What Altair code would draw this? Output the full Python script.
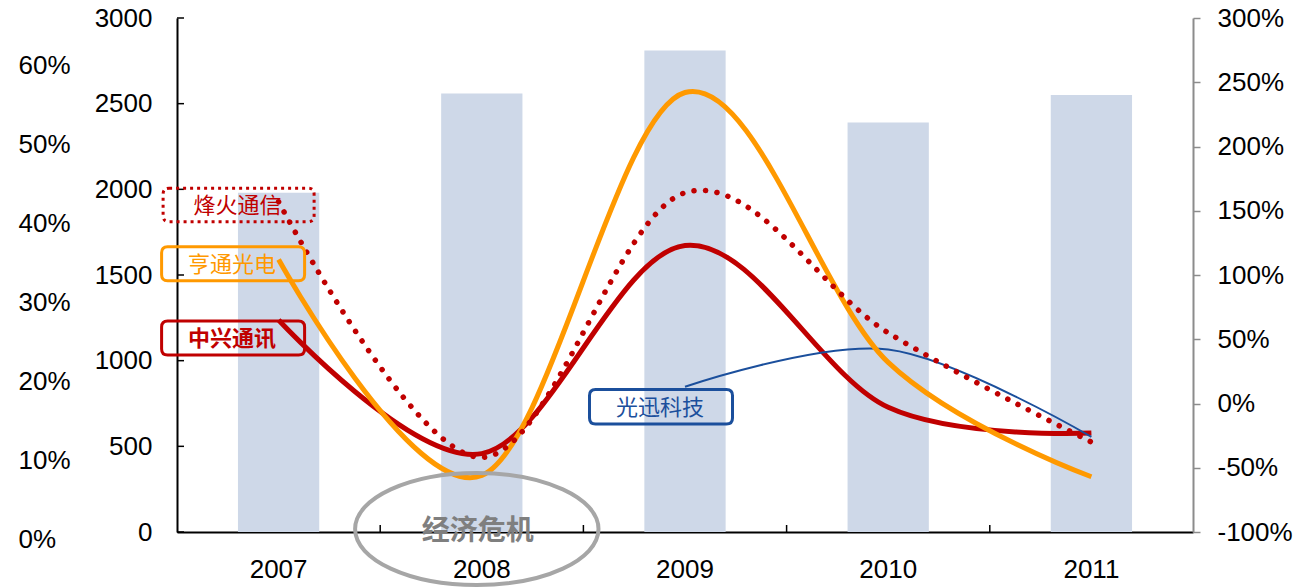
import altair as alt
import pandas as pd

# ---------------- data ----------------
years = ["2007", "2008", "2009", "2010", "2011"]
bar_values = [1980, 2560, 2810, 2390, 2550]

zte = [0.65, -0.39, 1.23, -0.03, -0.23]          # 中兴通讯
hengtong = [1.12, -0.56, 2.42, 0.32, -0.57]      # 亨通光电
fiberhome = [1.57, -0.42, 1.64, 0.55, -0.30]     # 烽火通信
accelink = [None, None, 0.13, 0.42, -0.26]       # 光迅科技

left_ticks = [0, 500, 1000, 1500, 2000, 2500, 3000]
right_ticks = [-1.0, -0.5, 0.0, 0.5, 1.0, 1.5, 2.0, 2.5, 3.0]
outer_ticks = [0, 10, 20, 30, 40, 50, 60]

label_names = ["烽火通信", "亨通光电", "中兴通讯", "光迅科技"]
label_years = ["2007", "2007", "2007", "2009"]
label_values = [1.545, 1.087, 0.51, -0.025]
crisis_label = "经济危机"

# ---------------- styling ----------------
W, H = 1016, 514
NUM_FONT = "Liberation Sans"
CJK_FONT = "Noto Sans CJK SC"
RED, ORANGE, BLUE, BAR = "#C00000", "#FF9900", "#1B4F9C", "#CED8E8"

xscale = alt.Scale(domain=years, paddingInner=0, paddingOuter=0)
xaxis = alt.Axis(domain=True, domainColor="black", domainWidth=2, ticks=False, tickSize=0,
                 labelPadding=24, labelFontSize=26, labelFont=NUM_FONT, labelColor="black",
                 labelAngle=0, grid=False, title=None)
X = alt.X("year:N", scale=xscale, axis=xaxis, sort=years)

bar_scale = alt.Scale(domain=[0, 3000], nice=False, zero=False)
right_scale = alt.Scale(domain=[-1.0, 3.0], nice=False, zero=False)

left_axis = alt.Axis(orient="left", values=left_ticks, format="d", domain=True,
                     domainColor="black", domainWidth=2, ticks=False, tickSize=0,
                     labelPadding=25, labelFontSize=26, labelFont=NUM_FONT, labelColor="black",
                     grid=False, title=None)
right_axis = alt.Axis(orient="right", values=right_ticks, domain=True, domainColor="#8C8C8C",
                      domainWidth=2, ticks=True, tickColor="#8C8C8C", tickWidth=1.5, tickSize=7,
                      labelPadding=17, labelFontSize=26, labelFont=NUM_FONT, labelColor="black",
                      labelExpr="round(datum.value*100) + '%'", grid=False, title=None)
outer_axis = alt.Axis(orient="left", values=outer_ticks, domain=False, ticks=False, tickSize=0,
                      offset=150, labelPadding=9, labelAlign="left", labelFontSize=26,
                      labelFont=NUM_FONT, labelColor="black", labelExpr="datum.value + '%'",
                      grid=False, title=None)

# ---------------- layers ----------------
df_bars = pd.DataFrame({"year": years, "v": bar_values})
bars = alt.Chart(df_bars).mark_bar(width={"band": 0.4}, color=BAR).encode(
    x=X, y=alt.Y("v:Q", scale=bar_scale, axis=left_axis))

df_lt = pd.DataFrame({"v": left_ticks})
left_tick_rules = alt.Chart(df_lt).mark_rule(color="black", strokeWidth=1.5).encode(
    y=alt.Y("v:Q", scale=bar_scale, axis=None), x=alt.value(0), x2=alt.value(7))

df_xt = pd.DataFrame({"year": years[1:]})
x_tick_rules = alt.Chart(df_xt).mark_rule(color="black", strokeWidth=1.5).encode(
    x=alt.X("year:N", scale=xscale, axis=xaxis, sort=years, bandPosition=0),
    y=alt.value(H), y2=alt.value(H - 7))


def series_df(vals):
    return pd.DataFrame({"year": [y for y, v in zip(years, vals) if v is not None],
                         "value": [v for v in vals if v is not None]})


line_zte = alt.Chart(series_df(zte)).mark_line(
    interpolate="cardinal", color=RED, strokeWidth=5).encode(
    x=X, y=alt.Y("value:Q", scale=right_scale, axis=right_axis))
line_acc = alt.Chart(series_df(accelink)).mark_line(
    interpolate="cardinal", color=BLUE, strokeWidth=2).encode(
    x=X, y=alt.Y("value:Q", scale=right_scale, axis=None))
line_ht = alt.Chart(series_df(hengtong)).mark_line(
    interpolate="cardinal", color=ORANGE, strokeWidth=5).encode(
    x=X, y=alt.Y("value:Q", scale=right_scale, axis=None))
line_fh = alt.Chart(series_df(fiberhome)).mark_line(
    interpolate="cardinal", color=RED, strokeWidth=5.5, strokeDash=[0.1, 11.5],
    strokeCap="round").encode(
    x=X, y=alt.Y("value:Q", scale=right_scale, axis=None))


def rrect(hh, cr):
    return (f"M{-1+cr},{-hh} L{1-cr},{-hh} Q1,{-hh} 1,{-hh+cr} L1,{hh-cr} "
            f"Q1,{hh} {1-cr},{hh} L{-1+cr},{hh} Q-1,{hh} -1,{hh-cr} "
            f"L-1,{-hh+cr} Q-1,{-hh} {-1+cr},{-hh} Z")


# label boxes: (box width, box height, dx, color, dashed, weight)
box_styles = [
    (151, 33.5, -40, RED, True, "normal"),
    (143, 34, -45.5, ORANGE, False, "normal"),
    (143, 34, -45.5, RED, False, "bold"),
    (143, 34.5, -24, BLUE, False, "normal"),
]

annot_layers = []
for name, yr, val, (bw, bh, dx, col, dashed, weight) in zip(
        label_names, label_years, label_values, box_styles):
    d = pd.DataFrame({"year": [yr], "value": [val], "label": [name]})
    r = bw / 2.0
    shape = rrect(bh / 2.0 / r, 6.0 / r)
    kw = dict(shape=shape, size=bw * bw, filled=False, stroke=col, strokeWidth=3,
              opacity=1, xOffset=dx)
    if dashed:
        kw.update(strokeDash=[3, 4])
    box = alt.Chart(d).mark_point(**kw).encode(
        x=X, y=alt.Y("value:Q", scale=right_scale, axis=None))
    txt = alt.Chart(d).mark_text(font=CJK_FONT, fontSize=22, color=col, fontWeight=weight,
                                 xOffset=dx - 1, yOffset=1, baseline="middle",
                                 align="center").encode(
        x=X, y=alt.Y("value:Q", scale=right_scale, axis=None), text="label:N")
    annot_layers += [box, txt]

# crisis ellipse
k = 0.5523
b = 0.46
ellipse = (f"M-1,0 C-1,{-k*b} {-k},{-b} 0,{-b} C{k},{-b} 1,{-k*b} 1,0 "
           f"C1,{k*b} {k},{b} 0,{b} C{-k},{b} -1,{k*b} -1,0 Z")
df_crisis = pd.DataFrame({"year": ["2008"], "v": [0], "label": [crisis_label]})
crisis_ell = alt.Chart(df_crisis).mark_point(
    shape=ellipse, size=243.4 ** 2, filled=False, stroke="#A6A6A6", strokeWidth=4,
    opacity=1, xOffset=-5, yOffset=-3).encode(
    x=X, y=alt.Y("v:Q", scale=bar_scale, axis=None))
crisis_txt = alt.Chart(df_crisis).mark_text(
    font=CJK_FONT, fontSize=28, fontWeight="bold", color="#7F7F7F", xOffset=-4,
    yOffset=0, baseline="middle").encode(
    x=X, y=alt.Y("v:Q", scale=bar_scale, axis=None), text="label:N")

# outer percentage axis (decorative)
df_outer = pd.DataFrame({"p": outer_ticks})
outer = alt.Chart(df_outer).mark_point(opacity=0).encode(
    y=alt.Y("p:Q", scale=alt.Scale(domain=[0, 60], range=[521, 47.5]), axis=outer_axis),
    x=alt.value(0))

chart = alt.layer(
    bars, left_tick_rules, x_tick_rules, outer,
    line_zte, line_acc, line_ht, line_fh,
    *annot_layers, crisis_ell, crisis_txt
).resolve_scale(y="independent").properties(
    width=W, height=H,
    padding={"left": 177, "top": 18, "right": 111, "bottom": 55},
    autosize=alt.AutoSizeParams(type="none"),
    background="white",
).configure_view(strokeWidth=0)

chart.save("out.html", embed_options={"renderer": "svg", "actions": False})
